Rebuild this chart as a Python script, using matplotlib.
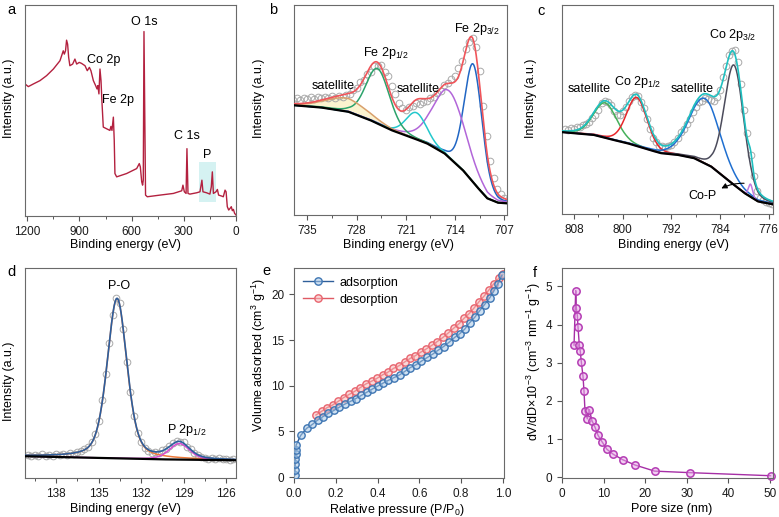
import numpy as np
import matplotlib.pyplot as plt
from matplotlib.patches import Rectangle
from matplotlib.ticker import MultipleLocator

plt.rcParams.update({
    'font.family': ['Liberation Sans', 'DejaVu Sans'],
    'mathtext.default': 'regular',
    'font.size': 9,
    'axes.edgecolor': '#6a6a6a',
    'axes.linewidth': 0.8,
    'xtick.color': '#555555',
    'ytick.color': '#555555',
    'xtick.labelcolor': '#1a1a1a',
    'ytick.labelcolor': '#1a1a1a',
    'xtick.labelsize': 8.5,
    'ytick.labelsize': 8.5,
    'xtick.major.size': 3.5,
    'ytick.major.size': 3.5,
    'xtick.minor.size': 2,
    'xtick.major.width': 0.8,
    'xtick.minor.width': 0.7,
})

# ---------------- (a) survey spectrum ----------------
survey_be = [1213, 1194, 1165, 1127, 1089, 1050, 1012, 993, 987, 980,
             974, 968, 962, 955, 939, 926, 916, 901, 888, 868,
             855, 843, 834, 820, 807, 799, 794, 788, 782, 776,
             771, 763, 744, 725, 719, 713, 705, 700, 696, 686,
             629, 571, 556, 550, 542, 537, 533, 529, 523, 520,
             510, 437, 360, 312, 305, 297, 287, 282, 276, 265,
             226, 207, 196, 190, 169, 150, 142, 136, 130, 115,
             107, 100, 82, 73, 63, 57, 50, 42, 34, 27,
             21, 15, 8, 0]
survey_int = [400, 392, 400, 410, 425, 445, 470, 500, 490, 500,
              532, 520, 480, 455, 460, 475, 460, 465, 462, 455,
              440, 450, 440, 410, 395, 385, 395, 370, 445, 410,
              350, 270, 265, 260, 272, 260, 300, 230, 130, 120,
              130, 145, 160, 150, 105, 95, 110, 558, 230, 65,
              60, 65, 70, 78, 95, 75, 70, 205, 70, 68,
              72, 75, 110, 75, 72, 68, 90, 135, 70, 75,
              82, 65, 62, 60, 80, 75, 30, 20, 25, 30,
              18, 22, 10, 5]

# ---------------- (b) Fe 2p ----------------
fe_start, fe_step = 737.0, 0.5
fe_raw = [346, 350, 345, 352, 347, 353, 348, 354, 350, 355,
          351, 356, 352, 358, 354, 361, 362, 375, 382, 398,
          406, 422, 430, 446, 448, 449, 430, 416, 388, 364,
          335, 322, 315, 324, 326, 335, 332, 340, 343, 352,
          354, 367, 372, 389, 396, 409, 418, 440, 462, 497,
          520, 532, 505, 432, 328, 237, 163, 112, 78, 64,
          52, 46, 39, 36]
fe_bg_be = [737.4, 733.2, 729.2, 726.1, 723.1, 720.5, 718.0, 715.5, 712.9, 710.9, 709.4, 707.9, 705.3]
fe_bg = [330, 323, 310, 285, 255, 235, 215, 185, 135, 85, 50, 37, 33]
fe_centers = [711.4, 714.8, 719.5, 725.0, 729.4]
fe_heights = [355, 200, 80, 165, 40]
fe_fwhm = [3.0, 5.5, 3.5, 4.0, 7.0]
fe_colors = ['#2166c4', '#b266d9', '#22c8cc', '#2ba36b', '#d9a06c']

# ---------------- (c) Co 2p ----------------
co_start, co_step = 809.5, 0.5
co_raw = [256, 252, 258, 255, 261, 260, 267, 270, 275, 288,
          298, 314, 334, 340, 336, 327, 309, 298, 296, 310,
          321, 340, 351, 357, 354, 338, 320, 286, 256, 228,
          215, 205, 204, 200, 205, 206, 217, 227, 245, 255,
          270, 284, 307, 321, 336, 341, 349, 346, 344, 339,
          352, 374, 412, 444, 478, 490, 492, 457, 392, 312,
          243, 178, 113, 70, 48, 43, 36, 33, 31]
co_bg_be = [810.0, 804.85, 802.1, 799.3, 796.6, 793.8, 791.05, 788.3, 785.5, 782.8, 780.0, 777.8, 775.0]
co_bg = [246, 238, 225, 213, 198, 183, 178, 168, 143, 103, 63, 38, 28]
co_centers = [802.9, 797.7, 786.5, 781.7, 779.0]
co_heights = [105, 146, 195, 360, 38]
co_fwhm = [4.5, 4.0, 6.0, 3.8, 0.8]
co_colors = ['#45b05a', '#e8262b', '#1f6fd0', '#4c4c5c', '#c27ae0']

# ---------------- (d) P 2p ----------------
p_start, p_step = 140.0, 0.25
p_raw = [70, 66, 69, 66, 71, 67, 70, 66, 71, 68,
         73, 70, 75, 73, 79, 80, 86, 93, 108, 131,
         170, 232, 312, 405, 487, 538, 522, 445, 348, 258,
         186, 135, 108, 90, 82, 76, 78, 76, 84, 88,
         97, 104, 112, 109, 107, 94, 86, 74, 68, 62,
         60, 58, 61, 56, 59, 56, 58, 55, 57]
p_bg_be = [140.2, 131.0, 125.3]
p_bg = [65, 56, 53]
p_centers = [133.7, 129.3]
p_heights = [478, 48]
p_fwhm = [1.65, 1.7]
p_colors = ['#ee7a3a', '#d84cd0']

# ---------------- (e) N2 isotherm ----------------
ads_p = [0.004, 0.005, 0.006, 0.007, 0.008, 0.009, 0.010, 0.032, 0.060, 0.088,
         0.113, 0.137, 0.164, 0.191, 0.217, 0.244, 0.271, 0.296, 0.322, 0.349,
         0.374, 0.400, 0.427, 0.452, 0.479, 0.506, 0.532, 0.557, 0.584, 0.610,
         0.638, 0.666, 0.690, 0.716, 0.744, 0.769, 0.793, 0.817, 0.840, 0.865,
         0.888, 0.912, 0.936, 0.957, 0.976, 0.995]
ads_v = [0.2, 0.8, 1.4, 2.0, 2.5, 3.0, 3.5, 4.56, 5.33, 5.77,
         6.24, 6.6, 6.97, 7.3, 7.66, 8.0, 8.3, 8.6, 8.94, 9.3,
         9.63, 9.96, 10.3, 10.6, 10.9, 11.2, 11.6, 12.0, 12.3, 12.7,
         13.1, 13.5, 13.9, 14.3, 14.8, 15.3, 15.7, 16.2, 16.9, 17.5,
         18.2, 18.9, 19.6, 20.4, 21.2, 22.1]
des_p = [0.105, 0.132, 0.158, 0.185, 0.212, 0.237, 0.264, 0.291, 0.317, 0.344,
         0.371, 0.396, 0.424, 0.450, 0.476, 0.503, 0.529, 0.556, 0.581, 0.608,
         0.634, 0.661, 0.686, 0.713, 0.739, 0.764, 0.790, 0.814, 0.838, 0.861,
         0.885, 0.909, 0.933, 0.957, 0.981, 1.000]
des_v = [6.8, 7.2, 7.6, 7.9, 8.3, 8.7, 9.05, 9.4, 9.8, 10.2,
         10.5, 10.8, 11.2, 11.5, 11.9, 12.2, 12.6, 13.0, 13.3, 13.7,
         14.05, 14.45, 14.85, 15.3, 15.8, 16.3, 16.8, 17.4, 17.9, 18.5,
         19.2, 19.8, 20.5, 21.2, 21.8, 22.2]

# ---------------- (f) pore size distribution ----------------
pore_d = [2.9, 3.3, 3.45, 3.7, 3.85, 4.17, 4.4, 4.65, 5.06, 5.3,
          5.54, 6.1, 6.58, 7.22, 7.95, 8.67, 9.63, 10.83, 12.36, 14.6,
          17.6, 22.3, 30.8, 50.2]
pore_v = [3.46, 4.89, 4.43, 4.23, 3.94, 3.46, 3.30, 3.02, 2.64, 2.25,
          1.73, 1.53, 1.77, 1.48, 1.31, 1.10, 0.93, 0.73, 0.60, 0.46,
          0.32, 0.16, 0.12, 0.04]


def pv(x, c, h, w, m):
    # pseudo-Voigt line shape of a fitted peak
    g = np.exp(-4 * np.log(2) * (x - c) ** 2 / w ** 2)
    l = 1 / (1 + 4 * (x - c) ** 2 / w ** 2)
    return h * ((1 - m) * g + m * l)


def xps_fit(ax, start, step, raw, bg_be, bg_int, centers, heights, fwhm, colors, env_color, m, xlim,
            shade=None):
    be = start - step * np.arange(len(raw))
    ax.plot(be, raw, 'o', mfc='none', mec='#a9a9a9', ms=4.8, mew=0.7, zorder=1)
    fine = np.linspace(xlim[0], xlim[1], 900)
    order = np.argsort(bg_be)
    bg = np.interp(fine, np.array(bg_be)[order], np.array(bg_int)[order])
    total = bg.copy()
    for i, (c, h, w, col) in enumerate(zip(centers, heights, fwhm, colors)):
        comp = pv(fine, c, h, w, m)
        total = total + comp
        if shade is not None and i == shade:
            ax.fill_between(fine, bg, bg + comp, color='#fbf3cf', lw=0, zorder=0.5)
        ax.plot(fine, bg + comp, color=col, lw=1.1, zorder=2)
    ax.plot(fine, total, color=env_color, lw=1.2, zorder=3)
    ax.plot(fine, bg, color='black', lw=1.6, zorder=4)
    ax.set_xlim(*xlim)


W, H = 779, 517
fig = plt.figure(figsize=(W / 100, H / 100), dpi=100)


def add_ax(l, r, t, b):
    return fig.add_axes([l / W, 1 - b / H, (r - l) / W, (b - t) / H])


ax_a = add_ax(25, 236, 5, 216)
ax_b = add_ax(294, 507, 5, 215)
ax_c = add_ax(562, 773, 5, 214)
ax_d = add_ax(25, 236, 268, 478)
ax_e = add_ax(294, 504, 268, 478)
ax_f = add_ax(562, 773, 268, 478)

# (a)
ax_a.add_patch(Rectangle((117, 43), 96, 122, facecolor='#d5f2f2', edgecolor='none', zorder=0))
ax_a.plot(survey_be, survey_int, color='#b3213f', lw=1.0, zorder=2)
ax_a.set_xlim(1213, 0)
ax_a.set_ylim(2, 638)
ax_a.xaxis.set_major_locator(MultipleLocator(300))
ax_a.xaxis.set_minor_locator(MultipleLocator(150))
ax_a.text(759, 473, 'Co 2p', ha='center', va='center', fontsize=9)
ax_a.text(677, 352, 'Fe 2p', ha='center', va='center', fontsize=9)
ax_a.text(527, 588, 'O 1s', ha='center', va='center', fontsize=9)
ax_a.text(280, 243, 'C 1s', ha='center', va='center', fontsize=9)
ax_a.text(165, 168, 'P', ha='center', va='bottom', fontsize=9)

# (b)
xps_fit(ax_b, fe_start, fe_step, fe_raw, fe_bg_be, fe_bg, fe_centers, fe_heights, fe_fwhm,
        fe_colors, '#f0555a', 0.2, (736.9, 706.6), shade=4)
ax_b.set_ylim(0, 630)
ax_b.xaxis.set_major_locator(MultipleLocator(7))
ax_b.xaxis.set_minor_locator(MultipleLocator(3.5))
ax_b.text(710.9, 557, r'Fe 2p$_{3/2}$', ha='center', va='center', fontsize=9)
ax_b.text(723.8, 485, r'Fe 2p$_{1/2}$', ha='center', va='center', fontsize=9)
ax_b.text(731.4, 387, 'satellite', ha='center', va='center', fontsize=9)
ax_b.text(719.3, 377, 'satellite', ha='center', va='center', fontsize=9)

# (c)
xps_fit(ax_c, co_start, co_step, co_raw, co_bg_be, co_bg, co_centers, co_heights, co_fwhm,
        co_colors, '#1fc0c0', 0.2, (810.0, 775.3))
ax_c.set_ylim(0, 628)
ax_c.xaxis.set_major_locator(MultipleLocator(8))
ax_c.xaxis.set_minor_locator(MultipleLocator(4))
ax_c.text(781.9, 538, r'Co 2p$_{3/2}$', ha='center', va='center', fontsize=9)
ax_c.text(797.5, 398, r'Co 2p$_{1/2}$', ha='center', va='center', fontsize=9)
ax_c.text(805.6, 375, 'satellite', ha='center', va='center', fontsize=9)
ax_c.text(788.6, 375, 'satellite', ha='center', va='center', fontsize=9)
ax_c.text(786.9, 55, 'Co-P', ha='center', va='center', fontsize=9)
ax_c.annotate('', xy=(784.2, 73), xytext=(779.6, 92),
              arrowprops=dict(arrowstyle='-|>', color='black', lw=0.8,
                              connectionstyle='arc3,rad=0.15', mutation_scale=8))

# (d)
xps_fit(ax_d, p_start, p_step, p_raw, p_bg_be, p_bg, p_centers, p_heights, p_fwhm,
        p_colors, '#2d5f9e', 0.4, (140.2, 125.3))
ax_d.set_ylim(0, 628)
ax_d.xaxis.set_major_locator(MultipleLocator(3))
ax_d.xaxis.set_minor_locator(MultipleLocator(1.5))
ax_d.text(133.53, 575, 'P-O', ha='center', va='center', fontsize=9)
ax_d.text(128.8, 145, r'P 2p$_{1/2}$', ha='center', va='center', fontsize=9)

for ax in (ax_a, ax_b, ax_c, ax_d):
    ax.set_yticks([])
    ax.set_xlabel('Binding energy (eV)', fontsize=9)
    ax.set_ylabel('Intensity (a.u.)', fontsize=9)

# axis label placement (x label: top edge, y label: right edge)
ax_a.xaxis.set_label_coords(0.474, -0.109)
ax_b.xaxis.set_label_coords(0.49, -0.114)
ax_c.xaxis.set_label_coords(0.528, -0.12)
ax_d.xaxis.set_label_coords(0.474, -0.119)
ax_a.yaxis.set_label_coords(-0.047, 0.56)
ax_b.yaxis.set_label_coords(-0.136, 0.556)
ax_c.yaxis.set_label_coords(-0.118, 0.555)
ax_d.yaxis.set_label_coords(-0.047, 0.46)

# (e)
ax_e.plot(des_p, des_v, '-o', color='#e05a64', lw=1.0, ms=5.3, mew=1.0,
          mec='#e8646e', mfc=(0.97, 0.72, 0.72, 0.55), label='desorption', zorder=2)
ax_e.plot(ads_p, ads_v, '-o', color='#2f5f9a', lw=1.0, ms=5.3, mew=1.0,
          mec='#3f76b3', mfc=(0.65, 0.78, 0.9, 0.55), label='adsorption', zorder=3)
h, lab = ax_e.get_legend_handles_labels()
ax_e.legend(h[::-1], lab[::-1], loc='upper left', frameon=False, fontsize=9,
            handlelength=2.4, handletextpad=0.5, borderaxespad=0.3, labelspacing=0.4)
ax_e.set_xlim(0, 1.005)
ax_e.set_ylim(-0.1, 22.9)
ax_e.xaxis.set_major_locator(MultipleLocator(0.2))
ax_e.yaxis.set_major_locator(MultipleLocator(5))
ax_e.xaxis.set_major_formatter(plt.FormatStrFormatter('%.1f'))
ax_e.set_xlabel(r'Relative pressure (P/P$_0$)', fontsize=9)
ax_e.set_ylabel(r'Volume adsorbed (cm$^3$ g$^{-1}$)', fontsize=9)
ax_e.xaxis.set_label_coords(0.49, -0.114)
ax_e.yaxis.set_label_coords(-0.124, 0.585)

# (f)
ax_f.plot(pore_d, pore_v, '-o', color='#a62fa6', lw=1.0, ms=5.3, mew=1.1,
          mec='#b43cb4', mfc=(0.9, 0.65, 0.9, 0.55), clip_on=False)
ax_f.set_xlim(0, 50.8)
ax_f.set_ylim(-0.02, 5.48)
ax_f.xaxis.set_major_locator(MultipleLocator(10))
ax_f.yaxis.set_major_locator(MultipleLocator(1))
ax_f.set_xlabel('Pore size (nm)', fontsize=9)
ax_f.set_ylabel(r'dV/dD$\times$10$^{-3}$ (cm$^{-3}$ nm$^{-1}$ g$^{-1}$)', fontsize=9)
ax_f.xaxis.set_label_coords(0.52, -0.119)
ax_f.yaxis.set_label_coords(-0.09, 0.554)

# panel letters
for lbl, x, y in [('a', 11, 10), ('b', 273, 10), ('c', 541, 11),
                  ('d', 11, 272), ('e', 266, 271), ('f', 535, 273)]:
    fig.text(x / W, 1 - y / H, lbl, ha='center', va='center', fontsize=10.5)

fig.savefig('out.png', dpi=100)
